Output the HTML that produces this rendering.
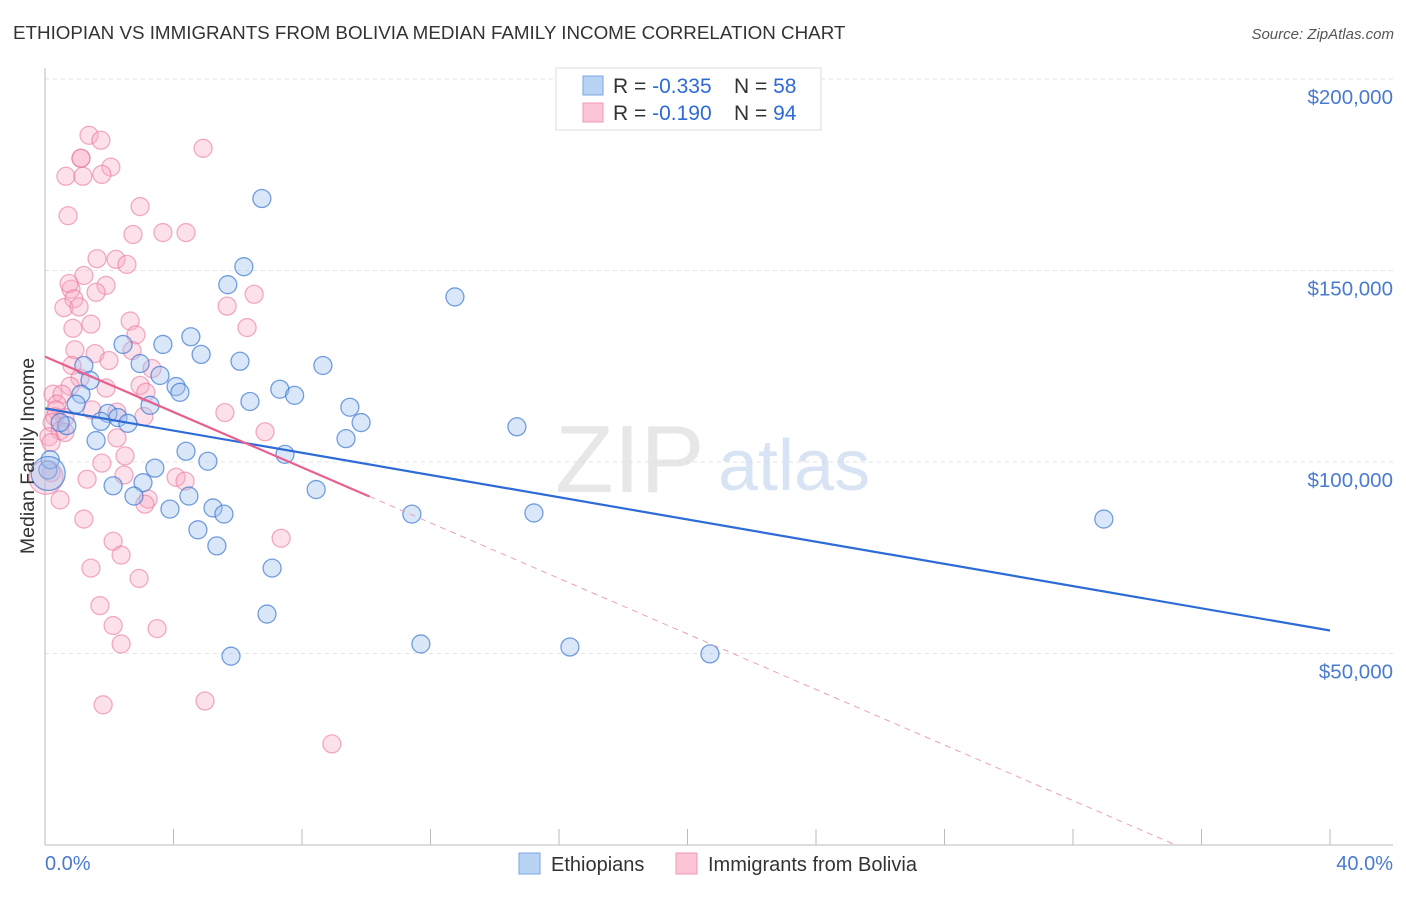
<!DOCTYPE html>
<html><head><meta charset="utf-8"><style>
body{margin:0;background:#fff;font-family:"Liberation Sans",sans-serif}
svg text{font-family:"Liberation Sans",sans-serif}
</style></head><body>
<svg id="chart" width="1406" height="892" viewBox="0 0 1406 892" xmlns="http://www.w3.org/2000/svg">
<text x="13" y="39" font-size="18.8" fill="#333">ETHIOPIAN VS IMMIGRANTS FROM BOLIVIA MEDIAN FAMILY INCOME CORRELATION CHART</text>
<text x="1394" y="39" font-size="15" fill="#555" text-anchor="end" font-style="italic">Source: ZipAtlas.com</text>
<g id="grid"></g>
<text x="555" y="492" font-size="96" fill="#ddd" font-family="Liberation Serif" opacity="0.7">ZIP</text>
<text x="718" y="490" font-size="72" fill="#c8daf0" opacity="0.7">atlas</text>
<g id="points"></g>
<g id="lines"></g>
<text transform="translate(34,456) rotate(-90)" font-size="19.5" fill="#333" text-anchor="middle">Median Family Income</text>
<text x="45" y="870" font-size="20" fill="#4a7bd0">0.0%</text>
<text x="1393" y="870" font-size="20" fill="#4a7bd0" text-anchor="end">40.0%</text>
<g>
<rect x="556" y="68" width="265" height="62" fill="#fff" stroke="#ddd"/>
<rect x="583" y="76" width="20" height="19" fill="#b9d3f5" stroke="#7aa6e3"/>
<rect x="583" y="103" width="20" height="19" fill="#fcc5d5" stroke="#ee9ab5"/>
<text x="613" y="93" font-size="21" fill="#333">R = <tspan fill="#2d6bd6">-0.335</tspan></text>
<text x="734" y="93" font-size="21" fill="#333">N = <tspan fill="#2d6bd6">58</tspan></text>
<text x="613" y="120" font-size="21" fill="#333">R = <tspan fill="#2d6bd6">-0.190</tspan></text>
<text x="734" y="120" font-size="21" fill="#333">N = <tspan fill="#2d6bd6">94</tspan></text>
</g>
<g>
<rect x="519" y="853" width="21" height="21" fill="#b9d3f5" stroke="#7aa6e3"/>
<text x="551" y="871" font-size="20" fill="#333">Ethiopians</text>
<rect x="676" y="853" width="21" height="21" fill="#fcc5d5" stroke="#ee9ab5"/>
<text x="708" y="871" font-size="20" fill="#333">Immigrants from Bolivia</text>
</g>
</svg>
<script>
const yTicks=[50000,100000,150000,200000];
const yTickLabels=["$50,000","$100,000","$150,000","$200,000"];
const blueX=[6.75,6.19,5.69,12.76,4.54,2.43,3.67,4.86,6.07,8.65,2.96,1.21,3.58,1.40,4.08,4.20,7.31,7.77,6.38,1.12,0.97,3.27,9.49,1.96,2.27,1.74,2.58,0.68,0.47,9.84,14.69,9.37,1.59,4.39,7.47,5.07,3.42,0.09,3.05,2.12,8.44,2.77,4.48,3.89,5.23,5.57,11.42,15.22,32.96,4.76,5.35,7.07,6.91,11.70,16.34,20.70,5.79,0.16,0.1];
const blueY=[168800,151000,146300,143100,132700,130700,130700,128100,126300,125200,125700,125200,122600,121300,119700,118200,119000,117400,115800,117700,115100,114800,114300,112700,111600,110600,110100,109500,110300,110300,109200,106100,105600,102800,102000,100200,98400,97900,94600,93800,92800,91100,91100,87700,88000,86400,86400,86700,85100,82300,78100,72300,60300,52500,51700,49900,49300,100600,97000];
const blueR=[9,9,9,9,9,9,9,9,9,9,9,9,9,9,9,9,9,9,9,9,9,9,9,9,9,9,9,9,9,9,9,9,9,9,9,9,9,9,9,9,9,9,9,9,9,9,9,9,9,9,9,9,9,9,9,9,9,9,17];
const pinkX=[1.37,1.74,4.92,1.12,2.05,1.12,0.65,1.18,1.77,2.96,0.72,3.67,2.74,4.39,1.62,2.21,2.55,1.21,0.81,1.90,6.51,1.59,0.75,0.90,5.67,0.59,1.06,1.43,2.65,0.87,6.29,2.83,0.93,1.56,2.71,1.99,0.84,3.33,1.09,1.90,0.78,2.96,0.25,0.53,0.37,3.14,0.34,1.46,2.24,5.60,0.31,0.62,3.08,0.22,0.47,0.62,6.85,0.12,0.19,2.24,2.49,1.77,2.46,4.08,4.36,1.31,0.19,0.47,3.21,3.11,1.21,7.35,2.12,2.37,1.43,2.93,1.71,2.12,3.49,2.37,1.81,4.98,8.93,0.03];
const pinkY=[185300,184000,181900,179300,177000,179300,174600,174600,175100,166700,164300,159900,159400,159900,153100,152900,151600,148700,145100,146100,143800,144300,146600,142600,140700,140300,140500,136000,136800,134900,135100,133200,129300,128300,129100,126500,125200,124400,121900,119300,119800,120000,117700,117700,115100,118200,113600,113600,113000,112900,111800,111600,111900,110300,108200,107700,107900,106600,105100,106300,101600,99700,96600,96000,95000,95500,97200,90100,90300,89000,85100,80100,79300,75700,72300,69600,62500,57300,56500,52500,36600,37600,26400,96000];
const xAxis=v=>45+v/40*1285;
const yAxis=v=>845-v/50000*191.5;
const NS="http://www.w3.org/2000/svg";
const grid=document.getElementById('grid');
function mk(t,a,p){const e=document.createElementNS(NS,t);for(const k in a)e.setAttribute(k,a[k]);p.appendChild(e);return e;}
yTicks.forEach((v,i)=>{
  const l=mk('line',{x1:45,x2:1393,y1:yAxis(v),y2:yAxis(v),stroke:'#e2e2e2','stroke-dasharray':'4,4'},grid);
  
  
  const t=mk('text',{x:1393,y:yAxis(v)+25,'font-size':20.5,fill:'#4a7bd0','text-anchor':'end'},grid);
  t.textContent=yTickLabels[i];
  
  
});
mk('line',{x1:45,x2:45,y1:68,y2:845,stroke:'#bbb'},grid);
mk('line',{x1:45,x2:1393,y1:845,y2:845,stroke:'#bbb'},grid);
for(let i=0;i<=10;i++){
  const tk=mk('line',{x1:xAxis(i*4),x2:xAxis(i*4),y1:829,y2:845,stroke:'#bbb'},grid);
  
  
}
const pts=document.getElementById('points');
pinkX.forEach((x,i)=>{
  const c=mk('circle',{cx:xAxis(x),cy:yAxis(pinkY[i]),r:i==pinkX.length-1?17:9,fill:'rgba(248,170,195,0.35)',stroke:'rgba(232,120,160,0.6)','stroke-width':1.3},pts);
  
  
});
blueX.forEach((x,i)=>{
  const c=mk('circle',{cx:xAxis(x),cy:yAxis(blueY[i]),r:blueR[i],fill:'rgba(160,195,240,0.4)',stroke:'rgba(60,120,210,0.7)','stroke-width':1.3},pts);
  
  
});
const lines=document.getElementById('lines');
const bl=mk('line',{x1:xAxis(0),y1:yAxis(114000),x2:xAxis(40),y2:yAxis(56000),stroke:'#2d6bd6','stroke-width':2.2},lines);


const pl=mk('line',{x1:xAxis(0),y1:yAxis(127500),x2:xAxis(10.1),y2:yAxis(91000),stroke:'#e8608f','stroke-width':2.2},lines);


const pd=mk('line',{x1:xAxis(10.1),y1:yAxis(91000),x2:xAxis(35.2),y2:yAxis(0),stroke:'#e8a0b8','stroke-width':1,'stroke-dasharray':'6,5'},lines);


</script>
</body></html>
